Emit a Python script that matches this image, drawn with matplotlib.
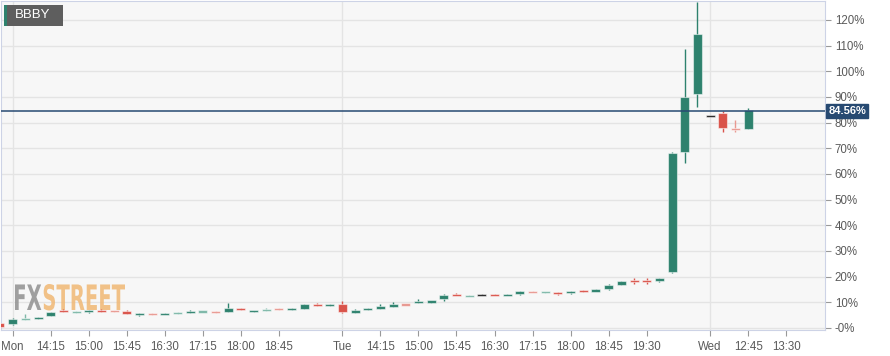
import pandas as pd
import matplotlib
matplotlib.use("Agg")
import matplotlib.pyplot as plt
from matplotlib.patches import Rectangle, PathPatch
from matplotlib.textpath import TextPath
from matplotlib.font_manager import FontProperties
from matplotlib.transforms import Affine2D, IdentityTransform

symbol = "BBBY"
last_price = 84.56

# trading sessions shown on the axis, 15 minute candles
sessions = [("Fri", "19:45", "19:45"), ("Mon", "13:30", "19:45"),
            ("Tue", "13:30", "20:30"), ("Wed", "12:00", "14:15")]

# candle values in % change, one per slot from Fri 19:45 to Wed 12:45
opens = [1.8, 1.4, 3.4, 3.7, 4.6, 6.8, 5.9, 6.1, 6.9, 6.6,
         6.6, 5.3, 5.6, 5.4, 5.6, 6.0, 6.2, 6.4, 6.4, 7.8,
         6.5, 6.7, 7.8, 7.1, 7.4, 9.1, 8.8, 9.3, 5.8, 7.2,
         7.5, 8.3, 9.3, 9.8, 10.0, 11.3, 12.9, 12.4, 12.9, 13.0,
         12.8, 13.1, 14.3, 13.9, 14.0, 13.5, 14.5, 14.4, 15.3, 16.9,
         18.5, 18.4, 18.4, 21.9, 68.4, 91.3, 82.6, 83.9, 77.6, 77.5]
highs = [2.0, 3.8, 5.4, 4.3, 6.3, 7.4, 6.5, 7.1, 7.3, 6.8,
         7.0, 5.8, 5.7, 5.8, 6.2, 6.9, 6.7, 6.5, 9.6, 7.9,
         6.8, 7.7, 7.9, 7.8, 9.3, 9.9, 9.4, 10.6, 7.5, 7.9,
         9.2, 10.2, 9.5, 11.2, 10.7, 13.1, 13.5, 12.9, 13.1, 13.2,
         13.1, 14.5, 14.5, 14.2, 14.2, 14.6, 14.8, 15.0, 17.0, 18.5,
         19.5, 19.4, 19.6, 68.6, 108.6, 126.9, 82.6, 84.5, 81.0, 85.8]
lows = [0.0, 1.2, 3.2, 3.6, 4.5, 6.3, 5.8, 6.0, 6.4, 6.3,
        5.5, 4.7, 5.2, 5.3, 5.5, 5.9, 6.1, 6.0, 6.3, 6.9,
        6.4, 6.6, 6.9, 7.0, 7.3, 8.6, 8.7, 5.9, 5.7, 7.0,
        7.4, 8.2, 8.8, 9.7, 9.9, 10.6, 12.7, 12.3, 12.8, 12.8,
        12.7, 13.0, 13.9, 13.8, 12.9, 13.4, 14.0, 14.3, 14.9, 16.8,
        17.1, 17.0, 17.8, 21.6, 64.2, 86.2, 82.6, 76.5, 76.2, 77.4]
closes = [0.3, 3.5, 3.8, 4.1, 6.2, 6.4, 6.4, 7.0, 6.5, 6.4,
          5.6, 5.7, 5.3, 5.7, 6.0, 6.4, 6.6, 6.1, 7.7, 7.0,
          6.7, 7.1, 7.0, 7.5, 9.2, 8.8, 9.1, 6.1, 6.9, 7.4,
          8.5, 9.3, 8.9, 10.3, 10.6, 13.0, 12.8, 12.8, 12.9, 12.8,
          13.0, 14.4, 14.0, 14.1, 13.5, 14.5, 14.2, 14.9, 16.9, 18.4,
          18.3, 18.2, 19.5, 68.0, 89.9, 114.6, 82.6, 77.8, 77.3, 84.9]
# thin-volume candles are drawn faded
low_volume = [2, 6, 9, 12, 14, 16, 17, 21, 22, 32, 37, 42, 43, 58]

tick_slots = ["Mon 13:30", "Mon 14:15", "Mon 15:00", "Mon 15:45", "Mon 16:30",
              "Mon 17:15", "Mon 18:00", "Mon 18:45", "Tue 13:30", "Tue 14:15",
              "Tue 15:00", "Tue 15:45", "Tue 16:30", "Tue 17:15", "Tue 18:00",
              "Tue 18:45", "Tue 19:30", "Wed 12:00", "Wed 12:45", "Wed 13:30"]
tick_labels = ["Mon", "14:15", "15:00", "15:45", "16:30", "17:15", "18:00",
               "18:45", "Tue", "14:15", "15:00", "15:45", "16:30", "17:15",
               "18:00", "18:45", "19:30", "Wed", "12:45", "13:30"]
y_ticks = [0, 10, 20, 30, 40, 50, 60, 70, 80, 90, 100, 110, 120]

slots = []
for day, start, end in sessions:
    for t in pd.date_range("2000-01-01 " + start, "2000-01-01 " + end, freq="15min"):
        slots.append(day + " " + t.strftime("%H:%M"))

GREEN, RED = "#2e826e", "#d9534a"
GREEN_L, RED_L = "#7db8a8", "#e89890"
NAVY = "#274a72"
TXT = "#5a5a5a"

fig = plt.figure(figsize=(8.9, 3.56), dpi=100)
ax = fig.add_axes([1 / 890, 26 / 356, 824 / 890, 329 / 356])
ax.set_facecolor("#f7f7f7")

for i in range(len(opens)):
    o, h, l, c = opens[i], highs[i], lows[i], closes[i]
    faded = i in low_volume
    if c > o:
        col = GREEN_L if faded else GREEN
    elif c < o:
        col = RED_L if faded else RED
    else:
        col = "#222222"
    ax.vlines(i, l, h, color=col, lw=1, zorder=3)
    height = max(abs(c - o), 0.9)
    bottom = (o + c) / 2 - height / 2
    if c == o:
        height = 0.6
        bottom = o - 0.3
    ax.bar(i, height, bottom=bottom, width=0.71, color=col,
           edgecolor=(1, 1, 1, 0.5), linewidth=0.8, zorder=4)

ax.axhline(last_price, color=NAVY, lw=1.1, zorder=5)

ax.set_xlim(0.08, 65.06)
ax.set_ylim(-0.78, 127.4)

tick_pos = [slots.index(s) for s in tick_slots]
ax.set_xticks(tick_pos)
ax.set_xticklabels(tick_labels)
ax.set_yticks(y_ticks)
ax.set_yticklabels(["-0%" if v == 0 else "%d%%" % v for v in y_ticks])
ax.yaxis.tick_right()
ax.tick_params(axis="both", colors="#999999", labelcolor=TXT, labelsize=8.3, length=4)
ax.tick_params(axis="x", pad=4)
ax.tick_params(axis="y", pad=3)
for lab in ax.get_xticklabels() + ax.get_yticklabels():
    lab.set_family("Liberation Sans")

ax.grid(axis="y", color="#e4e4e4", lw=1, zorder=0)
for s, lab in zip(tick_slots, tick_labels):
    if not lab[0].isdigit():
        ax.axvline(slots.index(s), color="#e4e4e4", lw=1, zorder=0)
ax.set_axisbelow(True)
for sp in ax.spines.values():
    sp.set_color("#cdd3e6")

# price label on the right axis
ax.text(1.004, last_price, "%.2f%%" % last_price, transform=ax.get_yaxis_transform(),
        ha="left", va="center", color="white", fontsize=8, fontweight="bold",
        family="Liberation Sans", zorder=10, clip_on=False,
        bbox=dict(boxstyle="square,pad=0.18", fc=NAVY, ec=NAVY))

# symbol badge
fig.add_artist(Rectangle((4 / 890, 1 - 26 / 356), 59 / 890, 21 / 356,
                         transform=fig.transFigure, fc="#5e5e5e", ec="none"))
fig.add_artist(Rectangle((4 / 890, 1 - 26 / 356), 2.5 / 890, 21 / 356,
                         transform=fig.transFigure, fc=GREEN, ec="none"))
fig.text(15 / 890, 1 - 15.5 / 356, symbol, color="white", fontsize=9.5,
         va="center", ha="left", family="Liberation Sans")

# FXSTREET watermark, squeezed to the logo width
fp = FontProperties(family="DejaVu Sans", weight="bold")
p_fx = TextPath((0, 0), "FX", size=1, prop=fp)
p_st = TextPath((0, 0), "STREET", size=1, prop=fp)
e_fx, e_st = p_fx.get_extents(), p_st.get_extents()
gap = 0.12
total = e_fx.width + gap + e_st.width
sx = 110 / total
sy = 26 / e_st.y1
x0, y0 = 15, 46
ax.add_patch(PathPatch(p_fx, transform=Affine2D().translate(-e_fx.x0, 0).scale(sx, sy)
                       .translate(x0, y0) + IdentityTransform(),
                       fc="#969696", ec="none", alpha=0.9, zorder=1))
ax.add_patch(PathPatch(p_st, transform=Affine2D().translate(-e_st.x0, 0).scale(sx, sy)
                       .translate(x0 + (e_fx.width + gap) * sx, y0) + IdentityTransform(),
                       fc="#f0b874", ec="none", alpha=0.85, zorder=1))

fig.savefig("out.png", dpi=100)
